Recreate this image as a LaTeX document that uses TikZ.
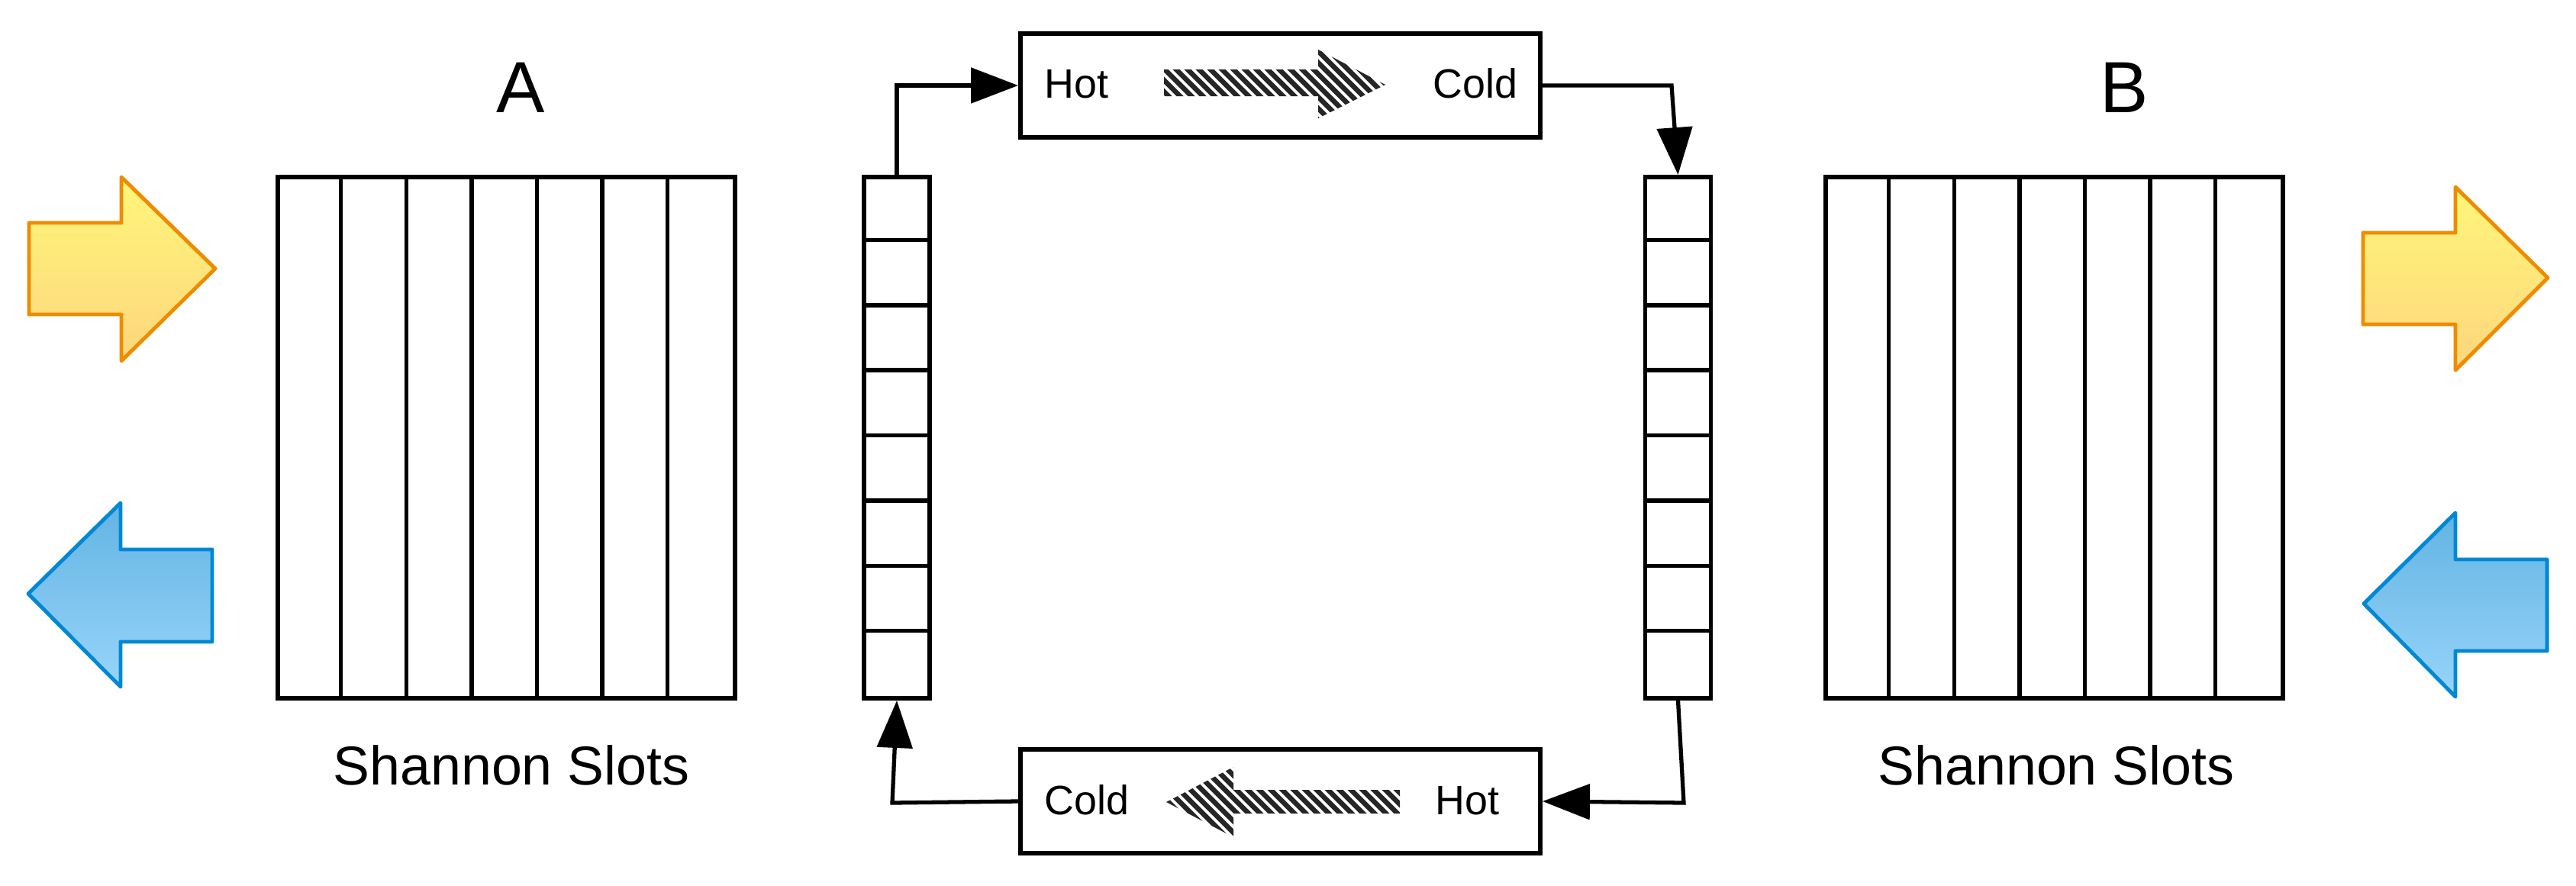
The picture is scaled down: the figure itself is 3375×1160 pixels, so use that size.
\documentclass[tikz,border=0pt]{standalone}
\usepackage{fontspec}
\setmainfont{Liberation Sans}
\usetikzlibrary{arrows.meta}
\definecolor{orline}{RGB}{238,140,0}
\definecolor{ortop}{RGB}{255,246,122}
\definecolor{orbot}{RGB}{253,214,125}
\definecolor{blline}{RGB}{0,136,212}
\definecolor{bltop}{RGB}{98,180,228}
\definecolor{blbot}{RGB}{152,212,249}
\begin{document}
\begin{tikzpicture}[x=0.01cm,y=-0.01cm,
  frame/.style={draw, line width=1.55pt, inner sep=0pt},
  slotbox/.style={frame, minimum width=5.99cm, minimum height=6.83cm},
  stackbox/.style={frame, minimum width=0.86cm, minimum height=6.83cm},
  flowbox/.style={frame, minimum width=6.81cm, minimum height=1.36cm},
  inner/.style={line width=1.55pt},
  conn/.style={line width=1.5pt, -{Triangle[length=0.62cm,width=0.46cm]}},
  hot/.style={font=\fontsize{15.3}{18}\selectfont, inner sep=0pt, anchor=base west},
  title/.style={font=\fontsize{27}{32}\selectfont, inner sep=0pt, anchor=base},
  caption/.style={font=\fontsize{20.4}{24}\selectfont, inner sep=0pt, anchor=base},
  orarrow/.style={draw=orline, line width=1.4pt, line join=round, top color=ortop, bottom color=orbot},
  blarrow/.style={draw=blline, line width=1.4pt, line join=round, top color=bltop, bottom color=blbot},
  stripe/.style={line width=0.065cm, black!85}
]
\useasboundingbox (0,0) rectangle (3375,1160);

% slot boxes
\node[slotbox] (slotA) at (663.5,573.5) {};
\node[slotbox] (slotB) at (2691.5,573.5) {};
\foreach \b in {slotA,slotB}
  \foreach \i in {1,...,6}
    \draw[inner] (\b.north west) ++(\i*85.57,0) -- ++(0,683);

\node[title] (labA) at (682,147) {A};
\node[title] (labB) at (2783,147) {B};
\node[caption] (capA) at (670,1028) {Shannon Slots};
\node[caption] (capB) at (2694,1028) {Shannon Slots};

% stacks
\node[stackbox] (stackL) at (1175,573.5) {};
\node[stackbox] (stackR) at (2198.5,573.5) {};
\foreach \b in {stackL,stackR}
  \foreach \i in {1,...,7}
    \draw[inner] (\b.north west) ++(0,\i*85.375) -- ++(86,0);

% flow boxes
\node[flowbox] (top) at (1677.5,112) {};
\node[flowbox] (bot) at (1677.5,1050) {};
\node[hot] (tHot) at (1368,128) {Hot};
\node[hot] (tCold) at (1877,128) {Cold};
\node[hot] (bCold) at (1368,1067) {Cold};
\node[hot] (bHot) at (1880,1067) {Hot};

% hatched arrows
\begin{scope}
  \clip (1525,91) -- (1727,91) -- (1727,65) -- (1815,111) -- (1727,155) -- (1727,126) -- (1525,126) -- cycle;
  \foreach \k in {0,...,32}
    \draw[stripe] (1400+\k*15,40) -- ++(130,130);
\end{scope}
\begin{scope}
  \clip (1834,1035) -- (1616,1035) -- (1616,1005) -- (1528,1051) -- (1616,1097) -- (1616,1066) -- (1834,1066) -- cycle;
  \foreach \k in {0,...,34}
    \draw[stripe] (1400+\k*15,980) -- ++(130,130);
\end{scope}

% connectors
\coordinate (c1) at (2190,112);
\coordinate (c2) at (2206,1052);
\coordinate (c3) at (1169,1052);
\draw[conn] (stackL.north) |- (top.west);
\draw[conn] (top.east) -- (c1) -- (stackR.north);
\draw[conn] (stackR.south) -- (c2) -- (bot.east);
\draw[conn] (bot.west) -- (c3) -- (stackL.south);

% coloured arrows
\path[orarrow] (38,292) -- (159,292) -- (159,232) -- (282,352) -- (159,473) -- (159,412) -- (38,412) -- cycle;
\path[blarrow] (37,778) -- (158,659) -- (158,720) -- (278,720) -- (278,841) -- (158,841) -- (158,900) -- cycle;
\path[orarrow] (3096,305) -- (3217,305) -- (3217,245) -- (3338,364) -- (3217,485) -- (3217,425) -- (3096,425) -- cycle;
\path[blarrow] (3097,791) -- (3217,672) -- (3217,733) -- (3337,733) -- (3337,853) -- (3217,853) -- (3217,913) -- cycle;
\end{tikzpicture}
\end{document}
